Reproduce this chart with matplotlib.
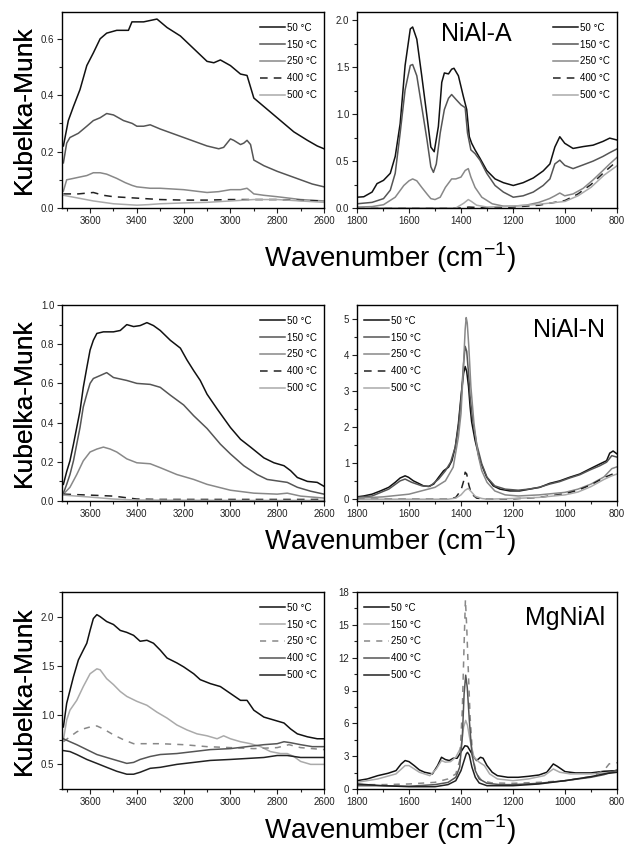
import numpy as np
import matplotlib
matplotlib.use('Agg')
import matplotlib.pyplot as plt
from matplotlib.ticker import MultipleLocator

plt.rcParams['font.family'] = ['Liberation Sans', 'DejaVu Sans']
plt.rcParams['mathtext.fontset'] = 'custom'
plt.rcParams['mathtext.rm'] = 'Liberation Sans'

labels = ['50 °C', '150 °C', '250 °C', '400 °C', '500 °C']

# ---- NiAl-A, OH region
a_oh_50_wn = [3714, 3693, 3671, 3643, 3614, 3586, 3557, 3529, 3486, 3436, 3421, 3371, 3314, 3271, 3214, 3157, 3100,
              3071, 3043, 3000, 2957, 2929, 2900, 2843, 2786, 2729, 2671, 2629, 2600]
a_oh_50_km = [0.22, 0.31, 0.36, 0.42, 0.505, 0.55, 0.60, 0.62, 0.63, 0.63, 0.66, 0.66, 0.67, 0.64, 0.61, 0.565, 0.52,
              0.515, 0.525, 0.505, 0.475, 0.47, 0.39, 0.35, 0.31, 0.27, 0.24, 0.22, 0.21]
a_oh_150_wn = [3714, 3700, 3686, 3650, 3614, 3586, 3557, 3529, 3500, 3457, 3420, 3400, 3371, 3343, 3300, 3250, 3200,
               3150, 3100, 3050, 3029, 3000, 2986, 2957, 2943, 2929, 2914, 2900, 2857, 2800, 2750, 2700, 2650, 2600]
a_oh_150_km = [0.16, 0.23, 0.25, 0.265, 0.29, 0.31, 0.32, 0.335, 0.33, 0.31, 0.30, 0.29, 0.29, 0.295, 0.28, 0.265, 0.25,
               0.235, 0.22, 0.21, 0.215, 0.245, 0.24, 0.225, 0.23, 0.24, 0.225, 0.17, 0.15, 0.13, 0.115, 0.10, 0.085, 0.075]
a_oh_250_wn = [3714, 3700, 3671, 3643, 3614, 3586, 3557, 3529, 3486, 3450, 3420, 3400, 3343, 3300, 3200, 3100, 3050,
               3000, 2957, 2929, 2914, 2900, 2857, 2800, 2700, 2600]
a_oh_250_km = [0.06, 0.10, 0.105, 0.11, 0.115, 0.125, 0.125, 0.12, 0.105, 0.09, 0.08, 0.075, 0.07, 0.07, 0.065, 0.055,
               0.058, 0.065, 0.065, 0.07, 0.06, 0.05, 0.045, 0.04, 0.03, 0.025]
a_oh_400_wn = [3714, 3650, 3586, 3543, 3500, 3400, 3300, 3200, 3100, 3000, 2900, 2800, 2700, 2600]
a_oh_400_km = [0.05, 0.05, 0.055, 0.045, 0.04, 0.035, 0.03, 0.028, 0.028, 0.03, 0.03, 0.03, 0.027, 0.025]
a_oh_500_wn = [3714, 3650, 3586, 3500, 3400, 3350, 3300, 3200, 3100, 3000, 2900, 2800, 2700, 2600]
a_oh_500_km = [0.045, 0.035, 0.025, 0.015, 0.01, 0.012, 0.015, 0.018, 0.02, 0.025, 0.03, 0.03, 0.025, 0.02]

# ---- NiAl-A, carbonate region
a_cb_50_wn = [1800, 1774, 1742, 1723, 1698, 1672, 1653, 1634, 1615, 1595, 1586, 1570, 1551, 1531, 1516, 1503, 1487,
              1474, 1464, 1448, 1436, 1427, 1410, 1391, 1378, 1368, 1359, 1346, 1327, 1301, 1269, 1237, 1199, 1161,
              1122, 1084, 1058, 1039, 1020, 1001, 969, 930, 892, 854, 828, 800]
a_cb_50_km = [0.115, 0.12, 0.17, 0.26, 0.295, 0.37, 0.55, 0.90, 1.52, 1.91, 1.93, 1.80, 1.41, 0.98, 0.65, 0.60, 0.87,
              1.34, 1.44, 1.43, 1.48, 1.49, 1.41, 1.19, 1.05, 0.76, 0.69, 0.62, 0.53, 0.40, 0.31, 0.27, 0.24, 0.27,
              0.32, 0.395, 0.47, 0.65, 0.76, 0.69, 0.635, 0.655, 0.67, 0.71, 0.745, 0.725]
a_cb_150_wn = [1800, 1742, 1698, 1672, 1653, 1634, 1615, 1595, 1586, 1570, 1551, 1531, 1516, 1506, 1495, 1480, 1464,
               1448, 1436, 1420, 1400, 1384, 1375, 1362, 1346, 1327, 1301, 1269, 1237, 1199, 1161, 1122, 1084, 1058,
               1039, 1020, 1001, 969, 930, 892, 854, 828, 800]
a_cb_150_km = [0.045, 0.06, 0.10, 0.19, 0.37, 0.80, 1.26, 1.52, 1.53, 1.41, 1.08, 0.73, 0.44, 0.38, 0.47, 0.80, 1.05,
               1.17, 1.21, 1.16, 1.10, 1.07, 0.80, 0.62, 0.58, 0.51, 0.37, 0.24, 0.17, 0.115, 0.13, 0.17, 0.24, 0.31,
               0.47, 0.51, 0.455, 0.42, 0.46, 0.50, 0.55, 0.59, 0.63]
a_cb_250_wn = [1800, 1742, 1698, 1653, 1620, 1600, 1586, 1570, 1551, 1531, 1516, 1500, 1480, 1460, 1436, 1420, 1400,
               1384, 1372, 1362, 1346, 1320, 1280, 1237, 1200, 1150, 1100, 1060, 1039, 1020, 1001, 969, 930, 892, 854,
               828, 800]
a_cb_250_km = [0.01, 0.015, 0.035, 0.115, 0.24, 0.29, 0.31, 0.29, 0.22, 0.15, 0.10, 0.09, 0.115, 0.22, 0.31, 0.31,
               0.33, 0.40, 0.42, 0.33, 0.22, 0.115, 0.045, 0.02, 0.02, 0.03, 0.06, 0.10, 0.13, 0.16, 0.13, 0.15, 0.21,
               0.30, 0.40, 0.47, 0.54]
a_cb_400_wn = [1800, 1400, 1370, 1300, 1200, 1100, 1000, 950, 900, 850, 800]
a_cb_400_km = [0.0, 0.0, 0.01, 0.0, 0.01, 0.03, 0.08, 0.15, 0.25, 0.38, 0.50]
a_cb_500_wn = [1800, 1420, 1390, 1372, 1360, 1340, 1300, 1200, 1100, 1000, 950, 900, 850, 800]
a_cb_500_km = [0.0, 0.0, 0.05, 0.09, 0.07, 0.03, 0.01, 0.02, 0.04, 0.07, 0.13, 0.22, 0.35, 0.45]

# ---- NiAl-N, OH region
n_oh_50_wn = [3714, 3700, 3686, 3671, 3657, 3643, 3629, 3614, 3600, 3586, 3571, 3543, 3500, 3471, 3443, 3414, 3386,
              3357, 3329, 3300, 3257, 3214, 3186, 3157, 3129, 3100, 3057, 3000, 2957, 2914, 2857, 2814, 2771, 2743,
              2714, 2671, 2629, 2600]
n_oh_50_km = [0.085, 0.15, 0.205, 0.29, 0.375, 0.46, 0.58, 0.68, 0.77, 0.82, 0.855, 0.863, 0.863, 0.87, 0.90, 0.89,
              0.895, 0.91, 0.895, 0.87, 0.82, 0.78, 0.72, 0.665, 0.615, 0.545, 0.47, 0.375, 0.315, 0.275, 0.22, 0.195,
              0.18, 0.155, 0.12, 0.10, 0.095, 0.075]
n_oh_150_wn = [3714, 3700, 3686, 3671, 3657, 3643, 3629, 3614, 3600, 3586, 3557, 3529, 3500, 3443, 3400, 3343, 3300,
               3257, 3200, 3157, 3100, 3043, 3000, 2943, 2886, 2843, 2786, 2757, 2714, 2657, 2600]
n_oh_150_km = [0.04, 0.085, 0.135, 0.205, 0.29, 0.375, 0.48, 0.545, 0.60, 0.625, 0.64, 0.655, 0.63, 0.615, 0.60,
               0.595, 0.58, 0.54, 0.49, 0.435, 0.37, 0.29, 0.24, 0.18, 0.135, 0.11, 0.10, 0.095, 0.07, 0.05, 0.035]
n_oh_250_wn = [3714, 3686, 3657, 3629, 3600, 3571, 3543, 3514, 3486, 3443, 3400, 3343, 3300, 3229, 3157, 3100, 3000,
               2900, 2800, 2757, 2700, 2600]
n_oh_250_km = [0.035, 0.07, 0.135, 0.205, 0.25, 0.265, 0.275, 0.265, 0.25, 0.215, 0.195, 0.19, 0.17, 0.135, 0.11,
               0.085, 0.055, 0.04, 0.035, 0.04, 0.025, 0.015]
n_oh_400_wn = [3714, 3600, 3500, 3400, 3300, 3000, 2600]
n_oh_400_km = [0.035, 0.03, 0.025, 0.01, 0.008, 0.008, 0.008]
n_oh_500_wn = [3714, 3600, 3500, 3400, 3000, 2600]
n_oh_500_km = [0.03, 0.02, 0.01, 0.005, 0.003, 0.003]

# ---- NiAl-N, carbonate/nitrate region
n_cb_50_wn = [1800, 1774, 1742, 1710, 1678, 1653, 1634, 1615, 1602, 1583, 1563, 1544, 1525, 1505, 1486, 1467, 1448,
              1435, 1422, 1410, 1400, 1390, 1384, 1378, 1371, 1365, 1359, 1346, 1327, 1301, 1276, 1250, 1212, 1174,
              1136, 1097, 1059, 1020, 982, 943, 905, 866, 840, 828, 815, 800]
n_cb_50_km = [0.065, 0.09, 0.14, 0.23, 0.33, 0.47, 0.59, 0.65, 0.61, 0.51, 0.44, 0.37, 0.355, 0.42, 0.61, 0.79, 0.89,
              1.07, 1.45, 2.1, 2.85, 3.5, 3.69, 3.55, 3.13, 2.57, 2.15, 1.64, 1.07, 0.61, 0.37, 0.28, 0.23, 0.23,
              0.28, 0.33, 0.44, 0.51, 0.61, 0.70, 0.84, 0.98, 1.07, 1.28, 1.34, 1.26]
n_cb_150_wn = [1800, 1742, 1678, 1634, 1615, 1590, 1550, 1520, 1486, 1460, 1440, 1422, 1410, 1400, 1390, 1384, 1378,
               1371, 1365, 1355, 1340, 1320, 1300, 1270, 1230, 1180, 1140, 1100, 1059, 1020, 982, 943, 905, 866, 840,
               820, 800]
n_cb_150_km = [0.05, 0.09, 0.28, 0.51, 0.56, 0.47, 0.37, 0.355, 0.56, 0.79, 1.03, 1.45, 2.0, 2.76, 3.78, 4.25, 4.11,
               3.5, 2.85, 2.2, 1.54, 0.98, 0.61, 0.37, 0.28, 0.25, 0.28, 0.33, 0.42, 0.49, 0.59, 0.68, 0.81, 0.93,
               1.03, 1.21, 1.17]
n_cb_250_wn = [1800, 1700, 1600, 1500, 1460, 1430, 1410, 1400, 1390, 1384, 1380, 1376, 1370, 1362, 1350, 1335, 1320,
               1300, 1270, 1230, 1180, 1100, 1000, 950, 900, 850, 820, 800]
n_cb_250_km = [0.03, 0.065, 0.14, 0.33, 0.51, 0.89, 1.73, 2.38, 3.78, 4.72, 5.05, 4.9, 4.25, 3.13, 2.1, 1.26, 0.79,
               0.47, 0.23, 0.12, 0.09, 0.12, 0.19, 0.28, 0.42, 0.62, 0.85, 0.90]
n_cb_400_wn = [1800, 1450, 1420, 1400, 1390, 1384, 1378, 1370, 1360, 1340, 1300, 1200, 1100, 1000, 950, 900, 850, 800]
n_cb_400_km = [0.0, 0.0, 0.05, 0.25, 0.5, 0.75, 0.7, 0.4, 0.15, 0.03, 0.0, 0.01, 0.05, 0.15, 0.25, 0.4, 0.6, 0.75]
n_cb_500_wn = [1800, 1450, 1420, 1400, 1384, 1372, 1362, 1345, 1320, 1300, 1200, 1100, 1000, 950, 900, 850, 820, 800]
n_cb_500_km = [0.0, 0.0, 0.03, 0.12, 0.25, 0.30, 0.22, 0.08, 0.02, 0.0, 0.02, 0.05, 0.12, 0.20, 0.35, 0.55, 0.65, 0.70]

# ---- MgNiAl, OH region
m_oh_50_wn = [3714, 3700, 3686, 3671, 3650, 3629, 3614, 3600, 3586, 3571, 3557, 3529, 3500, 3471, 3443, 3414, 3386,
              3357, 3329, 3300, 3271, 3229, 3200, 3157, 3129, 3086, 3043, 3000, 2957, 2929, 2900, 2857, 2814, 2771,
              2743, 2714, 2671, 2629, 2600]
m_oh_50_km = [0.88, 1.12, 1.25, 1.39, 1.56, 1.66, 1.73, 1.86, 1.98, 2.02, 2.0, 1.95, 1.92, 1.86, 1.84, 1.81, 1.75,
              1.76, 1.73, 1.66, 1.58, 1.53, 1.49, 1.42, 1.36, 1.32, 1.29, 1.22, 1.15, 1.15, 1.05, 0.98, 0.95, 0.92,
              0.86, 0.81, 0.78, 0.76, 0.76]
m_oh_150_wn = [3714, 3700, 3686, 3657, 3629, 3600, 3571, 3557, 3529, 3500, 3471, 3443, 3400, 3357, 3314, 3271, 3229,
               3186, 3143, 3100, 3057, 3029, 3000, 2957, 2914, 2871, 2829, 2786, 2757, 2729, 2700, 2657, 2600]
m_oh_150_km = [0.75, 0.95, 1.05, 1.15, 1.29, 1.42, 1.47, 1.46, 1.37, 1.31, 1.24, 1.19, 1.14, 1.10, 1.03, 0.97, 0.90,
               0.85, 0.81, 0.79, 0.76, 0.79, 0.76, 0.73, 0.71, 0.68, 0.63, 0.61, 0.61, 0.58, 0.53, 0.50, 0.50]
m_oh_250_wn = [3714, 3686, 3657, 3629, 3600, 3571, 3543, 3500, 3457, 3414, 3371, 3300, 3200, 3100, 3000, 2900, 2800,
               2750, 2700, 2600]
m_oh_250_km = [0.73, 0.78, 0.83, 0.86, 0.88, 0.89, 0.86, 0.80, 0.75, 0.71, 0.71, 0.71, 0.70, 0.68, 0.67, 0.66, 0.67,
               0.70, 0.67, 0.65]
m_oh_400_wn = [3714, 3686, 3657, 3614, 3571, 3529, 3486, 3443, 3414, 3386, 3343, 3300, 3229, 3157, 3086, 3000, 2929,
               2857, 2800, 2771, 2743, 2700, 2650, 2600]
m_oh_400_km = [0.76, 0.73, 0.70, 0.65, 0.60, 0.57, 0.54, 0.51, 0.52, 0.55, 0.58, 0.60, 0.61, 0.63, 0.65, 0.66, 0.68,
               0.70, 0.71, 0.73, 0.72, 0.70, 0.68, 0.68]
m_oh_500_wn = [3714, 3686, 3657, 3614, 3571, 3529, 3486, 3443, 3414, 3386, 3343, 3300, 3229, 3157, 3086, 3000, 2929,
               2857, 2800, 2757, 2700, 2650, 2600]
m_oh_500_km = [0.64, 0.63, 0.60, 0.55, 0.51, 0.47, 0.43, 0.40, 0.40, 0.42, 0.46, 0.47, 0.50, 0.52, 0.54, 0.55, 0.56,
               0.57, 0.59, 0.59, 0.57, 0.57, 0.57]

# ---- MgNiAl, carbonate region
m_cb_50_wn = [1800, 1760, 1720, 1680, 1650, 1630, 1615, 1600, 1580, 1560, 1540, 1510, 1490, 1475, 1460, 1445, 1430,
              1415, 1400, 1385, 1375, 1365, 1350, 1340, 1325, 1315, 1300, 1280, 1260, 1220, 1180, 1140, 1100, 1070,
              1045, 1030, 1000, 960, 900, 850, 800]
m_cb_50_km = [0.76, 0.92, 1.22, 1.44, 1.68, 2.29, 2.6, 2.5, 2.14, 1.74, 1.53, 1.38, 2.14, 2.9, 2.69, 2.6, 2.81, 2.81,
              3.4, 3.95, 3.9, 3.5, 2.9, 2.6, 2.9, 2.81, 2.14, 1.53, 1.22, 1.07, 1.07, 1.16, 1.28, 1.53, 2.29, 2.08,
              1.59, 1.47, 1.47, 1.62, 1.68]
m_cb_150_wn = [1800, 1720, 1650, 1615, 1600, 1560, 1520, 1495, 1475, 1460, 1440, 1420, 1400, 1390, 1382, 1375, 1365,
               1350, 1330, 1310, 1290, 1260, 1200, 1140, 1080, 1045, 1020, 980, 900, 850, 800]
m_cb_150_km = [0.61, 0.92, 1.38, 2.14, 2.14, 1.53, 1.22, 1.83, 2.6, 2.45, 2.5, 2.9, 3.82, 5.66, 6.27, 5.81, 4.43,
               2.9, 2.45, 2.14, 1.38, 0.92, 0.76, 0.92, 1.22, 1.83, 1.53, 1.38, 1.38, 1.47, 1.53]
m_cb_250_wn = [1800, 1700, 1600, 1500, 1450, 1420, 1405, 1395, 1388, 1383, 1378, 1372, 1365, 1355, 1340, 1320, 1280,
               1200, 1100, 1000, 900, 850, 830, 800]
m_cb_250_km = [0.4, 0.4, 0.46, 0.61, 0.92, 1.38, 2.6, 7.2, 13.3, 17.3, 14.8, 10.9, 6.6, 2.9, 1.38, 0.76, 0.55, 0.52,
               0.61, 0.76, 1.13, 1.7, 2.3, 2.4]
m_cb_400_wn = [1800, 1700, 1600, 1500, 1450, 1420, 1405, 1395, 1388, 1382, 1376, 1368, 1358, 1345, 1330, 1300, 1250,
               1200, 1100, 1000, 900, 850, 800]
m_cb_400_km = [0.3, 0.3, 0.25, 0.4, 0.6, 1.07, 2.0, 4.74, 8.7, 10.4, 9.3, 6.3, 3.2, 1.68, 0.92, 0.52, 0.4, 0.4, 0.52,
               0.76, 1.07, 1.31, 1.74]
m_cb_500_wn = [1800, 1700, 1600, 1500, 1450, 1420, 1400, 1390, 1380, 1375, 1368, 1358, 1345, 1330, 1300, 1200, 1100,
               1000, 900, 850, 800]
m_cb_500_km = [0.46, 0.3, 0.21, 0.21, 0.4, 0.76, 1.68, 2.45, 3.2, 3.35, 3.1, 2.0, 1.07, 0.55, 0.3, 0.3, 0.46, 0.76,
               1.13, 1.38, 1.53]

# line styles (colour, dashes)
sty_ni = [('#111111', '-'), ('#555555', '-'), ('#888888', '-'), ('#222222', (0, (5, 4))), ('#aaaaaa', '-')]
sty_mg = [('#111111', '-'), ('#aaaaaa', '-'), ('#888888', (0, (4, 4))), ('#555555', '-'), ('#222222', '-')]

W, H = 628, 851
fig = plt.figure(figsize=(W / 100, H / 100), dpi=100)


def make_ax(x0, x1, top, bot):
    return fig.add_axes([x0 / W, 1 - bot / H, (x1 - x0) / W, (bot - top) / H])


def style(ax, xlim, ylim, ymaj, ymin):
    ax.set_xlim(*xlim)
    ax.set_ylim(*ylim)
    ax.xaxis.set_major_locator(MultipleLocator(200))
    ax.xaxis.set_minor_locator(MultipleLocator(100))
    ax.yaxis.set_major_locator(MultipleLocator(ymaj))
    ax.yaxis.set_minor_locator(MultipleLocator(ymin))
    ax.tick_params(which='both', direction='out', top=False, right=False, labelsize=7, colors='#222222',
                   width=0.8, pad=2)
    ax.tick_params(which='major', length=3.5)
    ax.tick_params(which='minor', length=2)
    for s in ax.spines.values():
        s.set_linewidth(1.0)


panels = [
    # row, side, series, styles, ylim, major, minor, fmt
    (0, 'L', [(a_oh_50_wn, a_oh_50_km), (a_oh_150_wn, a_oh_150_km), (a_oh_250_wn, a_oh_250_km),
              (a_oh_400_wn, a_oh_400_km), (a_oh_500_wn, a_oh_500_km)], sty_ni, (0, 0.695), 0.2, 0.1, '%.1f'),
    (0, 'R', [(a_cb_50_wn, a_cb_50_km), (a_cb_150_wn, a_cb_150_km), (a_cb_250_wn, a_cb_250_km),
              (a_cb_400_wn, a_cb_400_km), (a_cb_500_wn, a_cb_500_km)], sty_ni, (0, 2.09), 0.5, 0.25, '%.1f'),
    (1, 'L', [(n_oh_50_wn, n_oh_50_km), (n_oh_150_wn, n_oh_150_km), (n_oh_250_wn, n_oh_250_km),
              (n_oh_400_wn, n_oh_400_km), (n_oh_500_wn, n_oh_500_km)], sty_ni, (0, 1.0), 0.2, 0.1, '%.1f'),
    (1, 'R', [(n_cb_50_wn, n_cb_50_km), (n_cb_150_wn, n_cb_150_km), (n_cb_250_wn, n_cb_250_km),
              (n_cb_400_wn, n_cb_400_km), (n_cb_500_wn, n_cb_500_km)], sty_ni, (-0.05, 5.4), 1, 0.5, '%d'),
    (2, 'L', [(m_oh_50_wn, m_oh_50_km), (m_oh_150_wn, m_oh_150_km), (m_oh_250_wn, m_oh_250_km),
              (m_oh_400_wn, m_oh_400_km), (m_oh_500_wn, m_oh_500_km)], sty_mg, (0.25, 2.25), 0.5, 0.25, '%.1f'),
    (2, 'R', [(m_cb_50_wn, m_cb_50_km), (m_cb_150_wn, m_cb_150_km), (m_cb_250_wn, m_cb_250_km),
              (m_cb_400_wn, m_cb_400_km), (m_cb_500_wn, m_cb_500_km)], sty_mg, (0, 18), 3, 1.5, '%d'),
]

rows = [(12, 208), (305, 501), (592, 789)]
names = ['NiAl-A', 'NiAl-N', 'MgNiAl']
leg_pos = {(0, 'L'): ('upper right', (1.0, 0.98)), (0, 'R'): ('upper right', (1.0, 0.98)),
           (1, 'L'): ('upper right', (1.0, 0.98)), (1, 'R'): ('upper left', (0.0, 0.98)),
           (2, 'L'): ('upper right', (1.0, 0.98)), (2, 'R'): ('upper left', (0.0, 0.98))}

for row, side, series, sty, ylim, ymaj, ymin, fmt in panels:
    top, bot = rows[row]
    if side == 'L':
        ax = make_ax(62, 324, top, bot)
        xlim = (3720, 2600)
    else:
        ax = make_ax(357, 617, top, bot)
        xlim = (1800, 800)
    for (wn, km), (c, ls), lab in zip(series, sty, labels):
        ax.plot(wn, km, color=c, linestyle=ls, lw=1.1, label=lab)
    style(ax, xlim, ylim, ymaj, ymin)
    ax.yaxis.set_major_formatter(matplotlib.ticker.FormatStrFormatter(fmt))
    loc, anchor = leg_pos[(row, side)]
    ax.legend(loc=loc, bbox_to_anchor=anchor, frameon=False, fontsize=7, handlelength=2.6,
              handletextpad=0.2, labelspacing=0.7, borderaxespad=0.3)
    if side == 'R':
        if row == 0:
            ax.text(0.46, 0.89, names[row], transform=ax.transAxes, ha='center', va='center', fontsize=18)
        else:
            ax.text(0.955, 0.87, names[row], transform=ax.transAxes, ha='right', va='center', fontsize=18)
    fig.text(24 / W, 1 - (top + bot) / 2 / H, 'Kubelka-Munk', rotation=90, ha='center', va='center', fontsize=19)

for y in [258, 541, 830]:
    fig.text(390 / W, 1 - y / H, 'Wavenumber (cm$^{\\mathregular{-1}}$)', ha='center', va='center', fontsize=20)

fig.savefig('out.png', dpi=100)
